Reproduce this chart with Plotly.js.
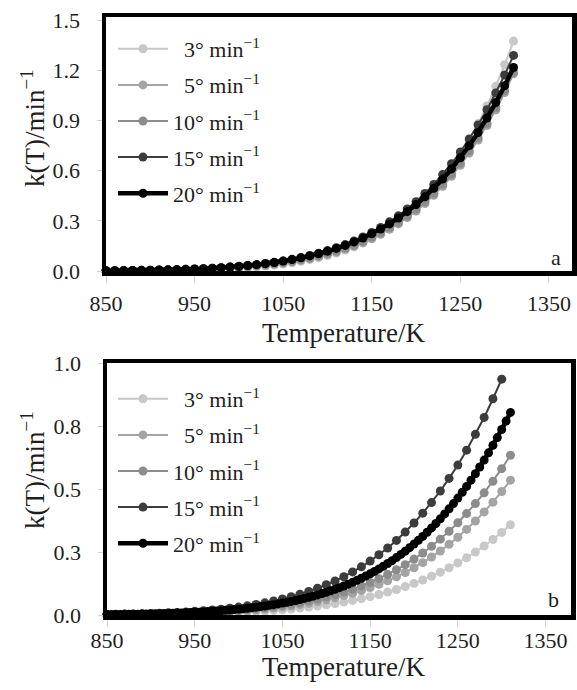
<!DOCTYPE html>
<html><head><meta charset="utf-8">
<script src="https://cdn.plot.ly/plotly-3.0.1.min.js"></script>
<style>html,body{margin:0;padding:0;background:#fff}#chart{width:577px;height:690px}</style>
</head><body><div id="chart"></div>
<script>
// Temperatures (K)
const temps10 = [850,860,870,880,890,900,910,920,930,940,950,960,970,980,990,1000,1010,1020,1030,1040,1050,1060,1070,1080,1090,1100,1110,1120,1130,1140,1150,1160,1170,1180,1190,1200,1210,1220,1230,1240,1250,1260,1270,1280,1290,1300,1310];
const temps10to1300 = [850,860,870,880,890,900,910,920,930,940,950,960,970,980,990,1000,1010,1020,1030,1040,1050,1060,1070,1080,1090,1100,1110,1120,1130,1140,1150,1160,1170,1180,1190,1200,1210,1220,1230,1240,1250,1260,1270,1280,1290,1300];
const temps5 = [850,855,860,865,870,875,880,885,890,895,900,905,910,915,920,925,930,935,940,945,950,955,960,965,970,975,980,985,990,995,1000,1005,1010,1015,1020,1025,1030,1035,1040,1045,1050,1055,1060,1065,1070,1075,1080,1085,1090,1095,1100,1105,1110,1115,1120,1125,1130,1135,1140,1145,1150,1155,1160,1165,1170,1175,1180,1185,1190,1195,1200,1205,1210,1215,1220,1225,1230,1235,1240,1245,1250,1255,1260,1265,1270,1275,1280,1285,1290,1295,1300,1305,1310];

// Panel a: k(T)/min^-1
const a_3  = [0.0007,0.0009,0.0011,0.0014,0.0018,0.0022,0.0028,0.0035,0.0043,0.0053,0.0065,0.0080,0.0098,0.0118,0.0143,0.0173,0.0207,0.0248,0.0296,0.0352,0.0417,0.0492,0.0579,0.0680,0.0796,0.0929,0.108,0.125,0.145,0.167,0.193,0.222,0.254,0.290,0.331,0.377,0.428,0.486,0.549,0.620,0.699,0.786,0.882,0.988,1.106,1.234,1.376];
const a_5  = [0.0011,0.0013,0.0017,0.0021,0.0026,0.0032,0.0039,0.0048,0.0059,0.0071,0.0086,0.0104,0.0125,0.0149,0.0178,0.0211,0.0250,0.0295,0.0347,0.0406,0.0475,0.0553,0.0642,0.0744,0.0860,0.0991,0.114,0.131,0.149,0.170,0.194,0.220,0.250,0.282,0.319,0.359,0.404,0.453,0.507,0.567,0.633,0.705,0.784,0.871,0.965,1.068,1.180];
const a_10 = [0.0012,0.0015,0.0019,0.0023,0.0029,0.0036,0.0044,0.0054,0.0065,0.0079,0.0095,0.0114,0.0136,0.0163,0.0193,0.0229,0.0270,0.0317,0.0372,0.0435,0.0506,0.0589,0.0682,0.0788,0.0908,0.1044,0.120,0.137,0.156,0.178,0.202,0.229,0.259,0.292,0.329,0.370,0.415,0.465,0.519,0.579,0.645,0.718,0.797,0.883,0.977,1.079,1.190];
const a_15 = [0.0016,0.0020,0.0025,0.0031,0.0038,0.0046,0.0056,0.0068,0.0082,0.0099,0.0119,0.0142,0.0169,0.0200,0.0237,0.0279,0.0328,0.0383,0.0447,0.0520,0.0603,0.0698,0.0805,0.0927,0.106,0.122,0.139,0.158,0.180,0.204,0.231,0.261,0.294,0.330,0.371,0.415,0.464,0.518,0.577,0.642,0.712,0.790,0.874,0.965,1.065,1.173,1.290];
const a_20 = [0.0016,0.0020,0.0025,0.0031,0.0038,0.0047,0.0057,0.0069,0.0083,0.0099,0.0119,0.0142,0.0168,0.0199,0.0235,0.0276,0.0324,0.0378,0.0440,0.0511,0.0592,0.0683,0.0787,0.0904,0.1035,0.118,0.135,0.153,0.174,0.197,0.223,0.251,0.282,0.317,0.355,0.398,0.444,0.495,0.550,0.611,0.678,0.750,0.829,0.915,1.008,1.109,1.218];

// Panel b: k(T)/min^-1
const b_3  = [0.0007,0.0009,0.0011,0.0013,0.0016,0.0020,0.0023,0.0028,0.0033,0.0040,0.0047,0.0055,0.0065,0.0076,0.0089,0.0103,0.0119,0.0138,0.0159,0.0183,0.0210,0.0240,0.0274,0.0313,0.0355,0.0402,0.0455,0.0513,0.0578,0.0649,0.0728,0.0814,0.0910,0.1014,0.1128,0.1254,0.1389,0.1539,0.1700,0.1876,0.2066,0.2273,0.2496,0.2737,0.2998,0.3278,0.358];
const b_5  = [0.0011,0.0013,0.0017,0.0020,0.0024,0.0029,0.0035,0.0042,0.0050,0.0059,0.0070,0.0083,0.0096,0.0113,0.0132,0.0154,0.0178,0.0206,0.0238,0.0274,0.0314,0.0359,0.0410,0.0467,0.0530,0.0601,0.0680,0.0767,0.0863,0.0970,0.1087,0.1217,0.1359,0.1515,0.1686,0.1873,0.2076,0.2299,0.2540,0.2803,0.3087,0.3396,0.3730,0.4090,0.4479,0.4899,0.535];
const b_10 = [0.0013,0.0016,0.0020,0.0024,0.0028,0.0035,0.0041,0.0050,0.0059,0.0070,0.0083,0.0098,0.0114,0.0134,0.0157,0.0182,0.0211,0.0244,0.0282,0.0325,0.0372,0.0426,0.0486,0.0554,0.0629,0.0712,0.0806,0.0908,0.1023,0.1150,0.1289,0.1442,0.1611,0.1796,0.1998,0.2220,0.2460,0.2725,0.3010,0.3322,0.3659,0.4025,0.4421,0.4848,0.5309,0.5806,0.634];
const b_15 = [0.0024,0.0029,0.0035,0.0042,0.0051,0.0061,0.0074,0.0088,0.0104,0.0123,0.0145,0.0171,0.0200,0.0233,0.0271,0.0315,0.0364,0.0420,0.0483,0.0554,0.0634,0.0723,0.0824,0.0935,0.106,0.120,0.135,0.152,0.171,0.191,0.214,0.239,0.266,0.296,0.329,0.365,0.404,0.446,0.492,0.542,0.595,0.654,0.717,0.784,0.858,0.936];
const b_20 = [0.0016,0.0018,0.0020,0.0022,0.0025,0.0027,0.0030,0.0033,0.0036,0.0040,0.0044,0.0048,0.0052,0.0057,0.0063,0.0069,0.0075,0.0081,0.0089,0.0096,0.0105,0.0114,0.0124,0.0134,0.0145,0.0157,0.0170,0.0184,0.0199,0.0214,0.0231,0.0249,0.0268,0.0288,0.0310,0.0333,0.0358,0.0384,0.0411,0.0441,0.0472,0.0505,0.0540,0.0577,0.0616,0.0658,0.0702,0.0748,0.0797,0.0849,0.0903,0.0961,0.1022,0.1085,0.1152,0.1223,0.1297,0.1376,0.1458,0.1544,0.1634,0.1729,0.1829,0.1934,0.2043,0.2157,0.2277,0.2403,0.2534,0.2671,0.2815,0.2964,0.3120,0.3284,0.3455,0.3632,0.3817,0.4011,0.4212,0.4422,0.4640,0.4868,0.5104,0.5350,0.5606,0.5871,0.6147,0.6434,0.6732,0.7041,0.7362,0.7695,0.804];

// Labels
const seriesNames = ['\u00a0\u00a03\u00b0 min<sup>\u22121</sup>','\u00a0\u00a05\u00b0 min<sup>\u22121</sup>','10\u00b0 min<sup>\u22121</sup>','15\u00b0 min<sup>\u22121</sup>','20\u00b0 min<sup>\u22121</sup>'];
const seriesColors = ['#c8c8c8','#a4a4a4','#8c8c8c','#3c3c3c','#000000'];
const xTicks = [850,950,1050,1150,1250,1350];
const yTicksA = [0,0.3,0.6,0.9,1.2,1.5];
const yTextA = ['0.0','0.3','0.6','0.9','1.2','1.5'];
const yTicksB = [0,0.25,0.5,0.75,1.0];
const yTextB = ['0.0','0.3','0.5','0.8','1.0'];
const xTitle = 'Temperature/K';
const yTitle = 'k(T)/min<sup>\u22121</sup>';

const SERIF = 'Liberation Serif, Times New Roman, serif';
const lineW = [2,2,2,2,4.5];

const panelA = [[temps10,a_3],[temps10,a_5],[temps10,a_10],[temps10,a_15],[temps10,a_20]];
const panelB = [[temps10,b_3],[temps10,b_5],[temps10,b_10],[temps10to1300,b_15],[temps5,b_20]];

const traces = [];
panelA.forEach((d,i)=>traces.push({x:d[0],y:d[1],type:'scatter',mode:'lines+markers',name:seriesNames[i],
  xaxis:'x',yaxis:'y',legend:'legend',legendgroup:'a'+i,cliponaxis:false,
  line:{color:seriesColors[i],width:lineW[i]},marker:{color:seriesColors[i],size:9}}));
panelB.forEach((d,i)=>traces.push({x:d[0],y:d[1],type:'scatter',mode:'lines+markers',name:seriesNames[i],
  xaxis:'x2',yaxis:'y2',legend:'legend2',legendgroup:'b'+i,cliponaxis:false,
  line:{color:seriesColors[i],width:lineW[i]},marker:{color:seriesColors[i],size:9}}));

const W=577,H=690;
const INK = '#1e1e1e';
const tickFont = {family:SERIF,size:22,color:INK};
const titleFont = {family:SERIF,size:27,color:INK};
function xAxis(domain,range,anchor,lblStandoff){
  return {domain:domain,range:range,anchor:anchor,tickvals:xTicks,ticks:'outside',ticklen:7,tickwidth:1,tickcolor:'#d0d0d0',
    showline:true,mirror:true,linewidth:4.5,linecolor:'#000',showgrid:false,zeroline:false,tickfont:tickFont,
    ticklabelstandoff:lblStandoff};
}
function yAxis(domain,range,anchor,vals,text){
  return {domain:domain,range:range,anchor:anchor,tickvals:vals,ticktext:text,ticks:'outside',ticklen:5,tickwidth:1,tickcolor:'#d0d0d0',
    showline:true,mirror:true,linewidth:4.5,linecolor:'#000',showgrid:false,zeroline:false,tickfont:tickFont,
    ticklabelstandoff:12};
}
const legendBase = {xref:'paper',yref:'paper',xanchor:'left',yanchor:'top',bgcolor:'rgba(0,0,0,0)',borderwidth:0,
  font:{family:SERIF,size:22,color:INK},tracegroupgap:4.5,itemwidth:50};

function title(text,x,y,angle){
  return {text:text,xref:'paper',yref:'paper',x:x/W,y:(H-y)/H,xanchor:'center',yanchor:'middle',showarrow:false,
    textangle:angle,font:titleFont};
}

const layout = {
  width:W,height:H,margin:{l:0,r:0,t:0,b:0},paper_bgcolor:'#fff',plot_bgcolor:'#fff',
  xaxis: xAxis([106/W,572/W],[850,1376],'y',2),
  yaxis: yAxis([(H-271)/H,(H-17)/H],[0,1.52],'x',yTicksA,yTextA),
  xaxis2: xAxis([107/W,571/W],[850,1379],'y2',-5),
  yaxis2: yAxis([(H-615)/H,(H-363)/H],[0,1.0],'x2',yTicksB,yTextB),
  legend: Object.assign({},legendBase,{x:113/W,y:(H-28)/H}),
  legend2: Object.assign({},legendBase,{x:113/W,y:(H-378)/H}),
  annotations:[
    title(xTitle,344,333,0),
    title(xTitle,344,667,0),
    title(yTitle,33,128,-90),
    title(yTitle,33,470,-90),
    {text:'a',xref:'paper',yref:'paper',x:556/W,y:(H-257)/H,xanchor:'center',yanchor:'middle',showarrow:false,font:{family:SERIF,size:22,color:INK}},
    {text:'b',xref:'paper',yref:'paper',x:553/W,y:(H-599)/H,xanchor:'center',yanchor:'middle',showarrow:false,font:{family:SERIF,size:22,color:INK}}
  ]
};

Plotly.newPlot('chart',traces,layout,{displayModeBar:false,staticPlot:true}).then(function(gd){
  // stretch legend sample lines to match the reference legend keys
  gd.querySelectorAll('.legendlines path').forEach(p=>p.setAttribute('d','M5,0h50'));
  gd.querySelectorAll('.legendpoints path').forEach(p=>p.setAttribute('transform','translate(30,0)'));
});
</script></body></html>
